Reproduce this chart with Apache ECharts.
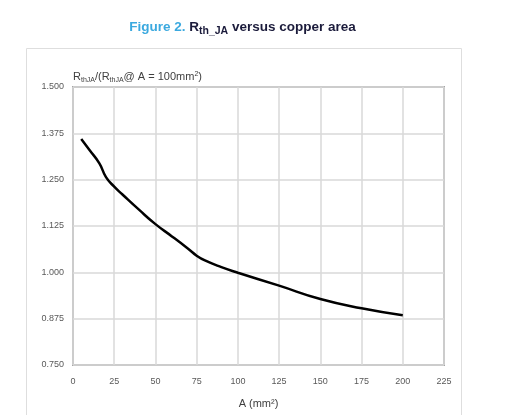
<!DOCTYPE html>
<html>
<head>
<meta charset="utf-8">
<script src="https://cdn.jsdelivr.net/npm/echarts@6/dist/echarts.min.js"></script>
<style>
html,body{margin:0;padding:0;background:#fff;}
#chart{width:525px;height:415px;}
</style>
</head>
<body>
<div id="chart"></div>
<script>
// Data
var areas = [5, 10, 16, 20, 25, 30, 40, 50, 60, 70, 75, 80, 90, 100, 125, 150, 175, 200];
var ratio = [1.360, 1.330, 1.294, 1.257, 1.231, 1.210, 1.169, 1.130, 1.097, 1.063, 1.045, 1.032, 1.014, 0.999, 0.964, 0.928, 0.903, 0.884];
var xTicks = [0, 25, 50, 75, 100, 125, 150, 175, 200, 225];
var yTicks = [0.750, 0.875, 1.000, 1.125, 1.250, 1.375, 1.500];

var seriesData = areas.map(function (a, i) { return [a, ratio[i]]; });

var chart = echarts.init(document.getElementById('chart'), null, {renderer: 'canvas'});
var font = '"Liberation Sans", Arial, sans-serif';

chart.setOption({
  animation: false,
  backgroundColor: '#ffffff',
  grid: {
    left: 73, right: 81, top: 87, bottom: 50,
    show: true, borderColor: '#a6a6a6', borderWidth: 2
  },
  xAxis: {
    type: 'value',
    min: xTicks[0], max: xTicks[xTicks.length - 1], interval: 25,
    axisLine: {show: false},
    axisTick: {show: false},
    splitLine: {show: true, lineStyle: {color: '#d9d9d9', width: 1.5}},
    axisLabel: {color: '#595959', fontSize: 9, fontFamily: font, margin: 12},
    name: 'A (mm²)',
    nameLocation: 'middle',
    nameGap: 33,
    nameTextStyle: {color: '#404040', fontSize: 11, fontFamily: font}
  },
  yAxis: {
    type: 'value',
    min: yTicks[0], max: yTicks[yTicks.length - 1], interval: 0.125,
    axisLine: {show: false},
    axisTick: {show: false},
    splitLine: {show: true, lineStyle: {color: '#d9d9d9', width: 1.5}},
    axisLabel: {
      color: '#595959', fontSize: 9, fontFamily: font, margin: 9,
      formatter: function (v) { return v.toFixed(3); }
    }
  },
  series: [{
    type: 'line',
    data: seriesData,
    smooth: 0.5,
    symbol: 'none',
    lineStyle: {color: '#000000', width: 2.5},
    z: 5
  }],
  graphic: [
    {
      type: 'rect',
      shape: {x: 26.5, y: 48.5, width: 435, height: 400},
      style: {fill: 'none', stroke: '#dedede', lineWidth: 1},
      silent: true, z: -1
    },
    {
      type: 'text',
      x: 242.5, y: 27,
      style: {
        text: '{a|Figure 2. }{b|R}{s|th_JA}{b| versus copper area}',
        align: 'center', verticalAlign: 'middle',
        rich: {
          a: {fontSize: 13.5, fontWeight: 'bold', fill: '#3ba9df', fontFamily: font, lineHeight: 17},
          b: {fontSize: 13.5, fontWeight: 'bold', fill: '#1b1b3b', fontFamily: font, lineHeight: 17},
          s: {fontSize: 10.5, fontWeight: 'bold', fill: '#1b1b3b', fontFamily: font, lineHeight: 17, padding: [8, 0, 0, 0]}
        }
      }
    },
    {
      type: 'text',
      x: 73, y: 77,
      style: {
        text: '{n|R}{s|thJA}{n|/(R}{s|thJA}{n|@ A = 100mm}{p|2}{n|)}',
        align: 'left', verticalAlign: 'middle',
        rich: {
          n: {fontSize: 11, fill: '#404040', fontFamily: font, lineHeight: 14},
          s: {fontSize: 7, fill: '#404040', fontFamily: font, lineHeight: 14, padding: [7, 0, 0, 0]},
          p: {fontSize: 7, fill: '#404040', fontFamily: font, lineHeight: 14, padding: [0, 0, 6, 0]}
        }
      }
    }
  ]
});
</script>
</body>
</html>
